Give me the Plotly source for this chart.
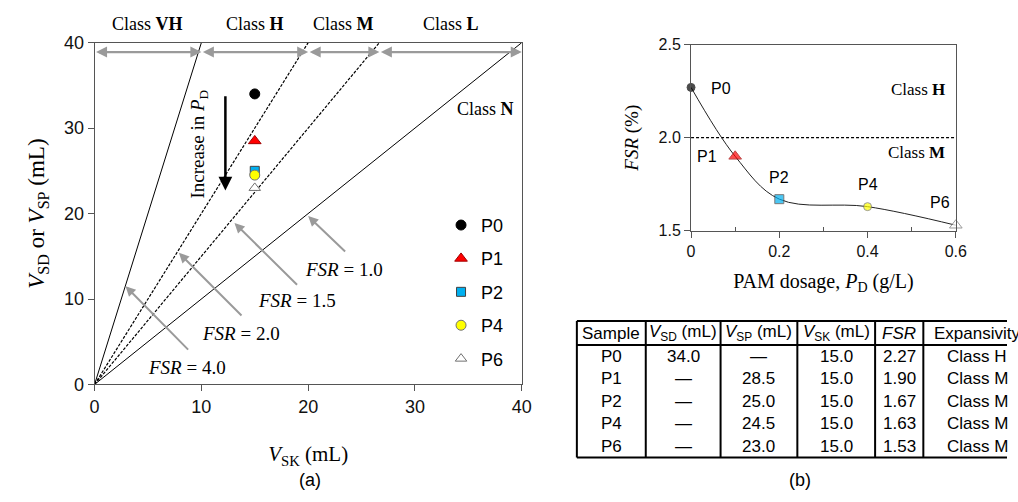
import plotly.graph_objects as go

# ---------------- data ----------------
samples = ["P0", "P1", "P2", "P4", "P6"]
v_sk = [15.0, 15.0, 15.0, 15.0, 15.0]
v_sd_sp = [34.0, 28.5, 25.0, 24.5, 23.0]
pam_dosage = [0.0, 0.1, 0.2, 0.4, 0.6]
fsr_values = [2.27, 1.90, 1.67, 1.63, 1.53]
fsr_lines = [4.0, 2.0, 1.5, 1.0]
class_names = ["VH", "H", "M", "L"]
fsr_threshold = 2.0

table_header = ["Sample", "<i>V</i><sub>SD</sub> (mL)", "<i>V</i><sub>SP</sub> (mL)",
                "<i>V</i><sub>SK</sub> (mL)", "<i>FSR</i>", "Expansivity"]
table_sample = ["P0", "P1", "P2", "P4", "P6"]
table_vsd = ["34.0", "—", "—", "—", "—"]
table_vsp = ["—", "28.5", "25.0", "24.5", "23.0"]
table_vsk = ["15.0", "15.0", "15.0", "15.0", "15.0"]
table_fsr = ["2.27", "1.90", "1.67", "1.63", "1.53"]
table_class = ["Class H", "Class M", "Class M", "Class M", "Class M"]

# ---------------- styles ----------------
symbols = ["circle", "triangle-up", "square", "circle", "triangle-up"]
fills = ["#000000", "#FF0000", "#00B0F0", "#FFFF00", "#FFFFFF"]
edges = ["#000000", "#A00000", "#404040", "#707070", "#707070"]
sizes_a = [10, 11, 9, 10, 10]
sizes_b = [8, 11, 9, 8, 11]
SERIF = "Liberation Serif, Times New Roman, serif"
SANS = "Liberation Sans, Arial, sans-serif"
AXC = "#555555"
W, H = 1018, 502

fig = go.Figure()

# ---- (a) FSR reference lines ----
xmax = 40.0
for f in fsr_lines:
    xe = xmax / max(f, 1.0)
    dashed = f in (2.0, 1.5)
    fig.add_trace(go.Scatter(
        x=[0, xe], y=[0, f * xe], mode="lines", xaxis="x", yaxis="y",
        line=dict(color="black", width=1.2 if dashed else 1,
                  dash="3px,1.5px" if dashed else "solid"),
        showlegend=False, hoverinfo="skip"))

# ---- (a) sample points ----
for i, s in enumerate(samples):
    fig.add_trace(go.Scatter(
        x=[v_sk[i]], y=[v_sd_sp[i]], mode="markers", name=s,
        xaxis="x", yaxis="y", legendgroup=s,
        marker=dict(symbol=symbols[i], size=sizes_a[i], color=fills[i],
                    line=dict(color=edges[i], width=1)),
        cliponaxis=False))

# ---- (b) FSR curve ----
fig.add_trace(go.Scatter(
    x=[0, 0.6], y=[fsr_threshold, fsr_threshold], mode="lines", xaxis="x2", yaxis="y2",
    line=dict(color="black", width=1.3, dash="3px,2px"), showlegend=False, hoverinfo="skip"))
fig.add_trace(go.Scatter(
    x=pam_dosage, y=fsr_values, mode="lines", xaxis="x2", yaxis="y2",
    line=dict(color="#222222", width=1, shape="spline", smoothing=1.0),
    showlegend=False, hoverinfo="skip"))
fig.add_trace(go.Scatter(
    x=pam_dosage, y=fsr_values, mode="markers", xaxis="x2", yaxis="y2",
    marker=dict(symbol=symbols, size=sizes_b, color=fills,
                line=dict(color=edges, width=1)),
    showlegend=False, cliponaxis=False))

ann = []
shapes = []

# ---- (a) class arrows & labels ----
bounds = [0.0] + [xmax / f for f in fsr_lines]
for k, cname in enumerate(class_names):
    x0, x1 = bounds[k], bounds[k + 1]
    ann.append(dict(x=x1, y=38.9, ax=x0, ay=38.9, xref="x", yref="y", axref="x", ayref="y",
                    text="", showarrow=True, arrowhead=2, arrowsize=1, arrowwidth=2.2,
                    arrowside="end+start", arrowcolor="#9A9A9A", standoff=0, startstandoff=0))
    ann.append(dict(x=(x0 + x1) / 2, y=1 - 15 / H, xref="x", yref="paper", showarrow=False,
                    xanchor="center", yanchor="middle",
                    text="Class <b>%s</b>" % cname, font=dict(family=SERIF, size=18, color="black")))
ann.append(dict(x=36.6, y=32.2, xref="x", yref="y", showarrow=False,
                text="Class <b>N</b>", font=dict(family=SERIF, size=18, color="black")))

# FSR arrows + labels (head, tail, label)
fsr_ann = [
    (1.0, (20.0, 19.7), (23.6, 15.4), (23.4, 13.5)),
    (1.5, (13.1, 18.9), (19.1, 11.5), (19.0, 9.8)),
    (2.0, (7.9, 15.4), (13.9, 7.9), (13.7, 6.0)),
    (4.0, (2.9, 11.5), (8.9, 3.9), (8.7, 2.0)),
]
for f, hd, tl, lb in fsr_ann:
    ann.append(dict(x=hd[0], y=hd[1], ax=tl[0], ay=tl[1], xref="x", yref="y", axref="x", ayref="y",
                    text="", showarrow=True, arrowhead=2, arrowsize=1, arrowwidth=2,
                    arrowcolor="#9A9A9A", standoff=0, startstandoff=0))
    ann.append(dict(x=lb[0], y=lb[1], xref="x", yref="y", showarrow=False,
                    text="<i>FSR</i> = %.1f" % f, font=dict(family=SERIF, size=19, color="black")))

# Increase in P_D arrow
ann.append(dict(x=12.25, y=22.7, ax=12.25, ay=33.9, xref="x", yref="y", axref="x", ayref="y",
                text="", showarrow=True, arrowhead=2, arrowsize=1.1, arrowwidth=2.5,
                arrowcolor="black", standoff=0, startstandoff=0))
ann.append(dict(x=9.8, y=28.1, xref="x", yref="y", showarrow=False, textangle=-90,
                text="Increase in <i>P</i><sub>D</sub>", font=dict(family=SERIF, size=19, color="black")))

# ---- (b) labels ----
b_labels = [(0.067, 2.263), (0.036, 1.897), (0.2, 1.784), (0.4, 1.748), (0.565, 1.65)]
for s, (lx, ly) in zip(samples, b_labels):
    ann.append(dict(x=lx, y=ly, xref="x2", yref="y2", showarrow=False, text=s,
                    font=dict(family=SANS, size=16, color="black")))
ann.append(dict(x=0.515, y=2.258, xref="x2", yref="y2", showarrow=False,
                text="Class <b>H</b>", font=dict(family=SERIF, size=17, color="black")))
ann.append(dict(x=0.511, y=1.923, xref="x2", yref="y2", showarrow=False,
                text="Class <b>M</b>", font=dict(family=SERIF, size=17, color="black")))

# ---- table (axis x3/y3 in pixel-like units) ----
col_w = [70, 76, 78, 79, 49, 110]
head_h, row_h = 25, 23.4
edges_x = [0]
for w_ in col_w:
    edges_x.append(edges_x[-1] + w_)
n_rows = len(table_sample)
tab_h = head_h + n_rows * row_h
columns = [table_sample, table_vsd, table_vsp, table_vsk, table_fsr, table_class]
for c, hdr in enumerate(table_header):
    cx = (edges_x[c] + edges_x[c + 1]) / 2
    ann.append(dict(x=cx, y=head_h / 2, xref="x3", yref="y3", showarrow=False, text=hdr,
                    font=dict(family=SANS, size=17, color="black")))
    for r, val in enumerate(columns[c]):
        ann.append(dict(x=cx, y=head_h + r * row_h + row_h / 2, xref="x3", yref="y3",
                        showarrow=False, text=val, font=dict(family=SANS, size=17, color="black")))
lw = 2
for xe in edges_x:
    shapes.append(dict(type="line", xref="x3", yref="y3", x0=xe, x1=xe, y0=0, y1=tab_h,
                       line=dict(color="black", width=lw)))
for ye in (0, head_h, tab_h):
    shapes.append(dict(type="line", xref="x3", yref="y3", x0=0, x1=edges_x[-1], y0=ye, y1=ye,
                       line=dict(color="black", width=lw)))

ann.append(dict(x=310 / W, y=1 - 490 / H, xref="paper", yref="paper", showarrow=False, text="(a)",
                xanchor="center", yanchor="middle", font=dict(family=SANS, size=18, color="black")))
ann.append(dict(x=808 / W, y=1 - 490 / H, xref="paper", yref="paper", showarrow=False, text="(b)",
                xanchor="center", yanchor="middle", font=dict(family=SANS, size=18, color="black")))

axis_common = dict(showgrid=False, zeroline=False, showline=True, linecolor=AXC, linewidth=1,
                   ticks="outside", tickcolor=AXC, ticklen=6, mirror=True)

fig.update_layout(
    width=W, height=H, autosize=False, margin=dict(l=0, r=0, t=0, b=0),
    paper_bgcolor="white", plot_bgcolor="white", showlegend=True,
    xaxis=dict(domain=[91 / W, 525 / W], range=[0, 40], dtick=10, anchor="y",
               tickfont=dict(family=SANS, size=18, color="#111"),
               title=dict(text="<i>V</i><sub>SK</sub> (mL)", standoff=30,
                          font=dict(family=SERIF, size=21, color="black")), **axis_common),
    yaxis=dict(domain=[1 - 390 / H, 1 - 34 / H], range=[0, 40], dtick=10, anchor="x",
               tickfont=dict(family=SANS, size=18, color="#111"),
               title=dict(text="<i>V</i><sub>SD</sub> or <i>V</i><sub>SP</sub> (mL)", standoff=12,
                          font=dict(family=SERIF, size=23, color="black")), **axis_common),
    xaxis2=dict(domain=[697 / W, 966 / W], range=[0, 0.6], tickvals=[0, 0.2, 0.4, 0.6],
                ticktext=["0", "0.2", "0.4", "0.6"], anchor="y2",
                minor=dict(ticks="inside", tickvals=[0.1, 0.3, 0.5], ticklen=4, tickcolor=AXC),
                tickfont=dict(family=SANS, size=16, color="#111"),
                title=dict(text="PAM dosage, <i>P</i><sub>D</sub> (g/L)", standoff=14,
                           font=dict(family=SERIF, size=20, color="black")), **axis_common),
    yaxis2=dict(domain=[1 - 230 / H, 1 - 36 / H], range=[1.5, 2.5], tickvals=[1.5, 2.0, 2.5],
                tickformat=".1f", anchor="x2",
                tickfont=dict(family=SANS, size=16, color="#111"),
                title=dict(text="<i>FSR</i> (%)", standoff=14,
                           font=dict(family=SERIF, size=19, color="black")), **axis_common),
    xaxis3=dict(domain=[578 / W, 1.0], range=[-3, 437], visible=False, anchor="y3"),
    yaxis3=dict(domain=[1 - 469 / H, 1 - 321 / H], range=[145, -3], visible=False, anchor="x3"),
    legend=dict(x=443 / W, y=1 - 205 / H, xanchor="left", yanchor="top",
                traceorder="grouped", tracegroupgap=7, bgcolor="rgba(0,0,0,0)",
                font=dict(family=SANS, size=18, color="black"), itemwidth=30),
    annotations=ann, shapes=shapes,
)

fig.write_html("out.html")
